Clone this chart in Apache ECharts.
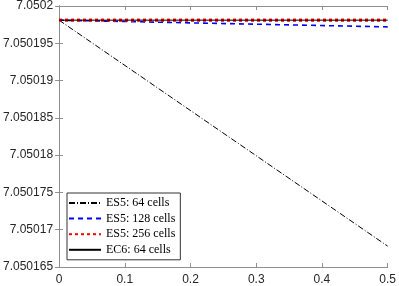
<!DOCTYPE html>
<html><head><meta charset="utf-8">
<script src="https://cdn.jsdelivr.net/npm/echarts@6/dist/echarts.min.js"></script>
<style>html,body{margin:0;padding:0;background:#fff}#c{width:399px;height:286px}</style>
</head><body><div id="c"></div>
<script>
const xs = [0, 0.5];
const es5_64 = [7.0501981, 7.0501678];
const es5_128 = [7.0501981, 7.0501972];
const es5_256 = [7.0501981, 7.0501981];
const ec6_64 = [7.0501981, 7.0501981];
const names = ['ES5: 64 cells', 'ES5: 128 cells', 'ES5: 256 cells', 'EC6: 64 cells'];
const yMin = 7.050165, yMax = 7.0502, yStep = 0.000005;

function pts(ys){ return xs.map((x,i)=>[x, ys[i]]); }
const axisCol = '#8f8f8f';
const lblCol = '#262626';
const chart = echarts.init(document.getElementById('c'), null, {renderer:'canvas'});
const mkX = (pos, show) => ({
  type:'value', position: pos, min:0, max:0.5, interval:0.1,
  axisLine:{show:true, lineStyle:{color:axisCol, width:1}},
  axisTick:{show:true, inside:true, length:4, lineStyle:{color:axisCol}},
  axisLabel:{show:show, color:lblCol, fontFamily:'Liberation Sans', fontSize:12, margin:7,
    formatter: v => parseFloat(v.toFixed(2)).toString()},
  splitLine:{show:false}
});
const mkY = (pos, show) => ({
  type:'value', position: pos, min:yMin, max:yMax, interval:yStep, scale:true,
  axisLine:{show:true, lineStyle:{color:axisCol, width:1}},
  axisTick:{show:true, inside:true, length:4, lineStyle:{color:axisCol}},
  axisLabel:{show:show, color:lblCol, fontFamily:'Liberation Sans', fontSize:12, margin:6,
    formatter: v => parseFloat(v.toFixed(6)).toString()},
  splitLine:{show:false}
});
const mkS = (i, ys, color, width, type) => ({
  name:names[i], type:'line', data:pts(ys), showSymbol:false, symbol:'none', symbolSize:0,
  itemStyle:{color:color}, lineStyle:{color:color, width:width, type:type, cap:'butt'}
});
chart.setOption({
  animation:false,
  grid:{left:56, right:9, top:4, bottom:18, containLabel:false},
  xAxis:[mkX('bottom', true), mkX('top', false)],
  yAxis:[mkY('left', true), mkY('right', false)],
  legend:{
    orient:'vertical', left:67, top:193,
    data:names,
    backgroundColor:'#fff', borderColor:'#333', borderWidth:1,
    padding:[4,5,4,1], itemGap:3.6, itemWidth:32, itemHeight:12,
    itemStyle:{opacity:0},
    textStyle:{fontFamily:'Liberation Serif', fontSize:12, color:'#000'}
  },
  series:[
    mkS(0, es5_64, '#000', 1, [6,2,1,2]),
    mkS(1, es5_128, '#0000ff', 1.6, [5,4]),
    mkS(2, es5_256, '#ff0000', 3.2, [3,3]),
    mkS(3, ec6_64, '#000', 1, 'solid')
  ]
});
</script></body></html>
